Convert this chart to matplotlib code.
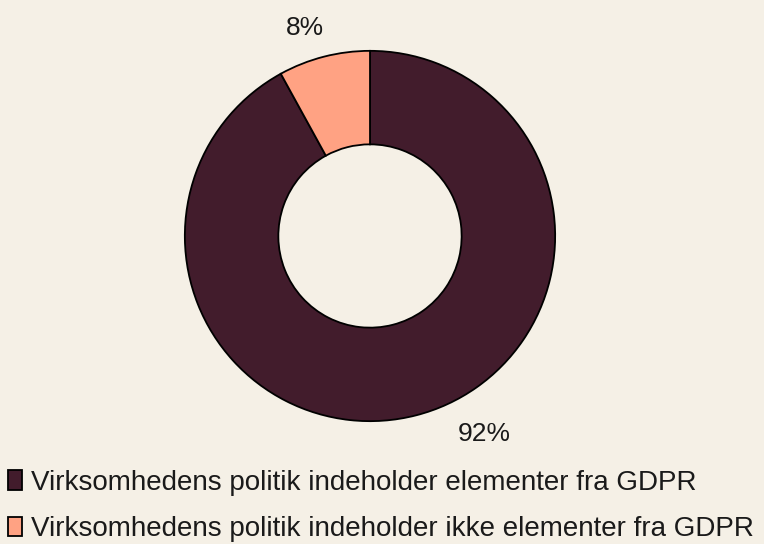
import matplotlib
matplotlib.use("Agg")
import matplotlib.pyplot as plt
import numpy as np

labels = ["Virksomhedens politik indeholder elementer fra GDPR",
          "Virksomhedens politik indeholder ikke elementer fra GDPR"]
values = [92, 8]
pct_labels = ["92%", "8%"]
colors = ["#421C2C", "#FFA283"]
bg = "#F5F0E6"

plt.rcParams['font.family'] = ["Liberation Sans", "DejaVu Sans"]

fig = plt.figure(figsize=(7.64, 5.44), dpi=100, facecolor=bg)
ax = fig.add_axes([183/764, 121/544, 374/764, 374/544])
ax.set_facecolor(bg)
wedges, _ = ax.pie(values, colors=colors, startangle=90, counterclock=False,
                   radius=1.0, wedgeprops=dict(width=0.505, edgecolor="black", linewidth=1.3))
ax.set_xlim(-1.01, 1.01)
ax.set_ylim(-1.01, 1.01)
ax.set_aspect('equal')
ax.axis('off')

label_pos = [(0.615, -1.07), (-0.35, 1.125)]
for txt, (x, y) in zip(pct_labels, label_pos):
    ax.text(x, y, txt, ha='center', va='center', fontsize=19, color="#1a1a1a", clip_on=False)

leg = fig.legend(wedges, labels, loc='center left', bbox_to_anchor=(0.0, 1 - 506/544),
                 frameon=False, fontsize=20, handlelength=0.5, handleheight=0.7,
                 handletextpad=0.3, labelspacing=0.75, borderpad=0.3, borderaxespad=0.0)
for t in leg.get_texts():
    t.set_color("#1a1a1a")
fig.savefig("out.png", dpi=100, facecolor=bg)
